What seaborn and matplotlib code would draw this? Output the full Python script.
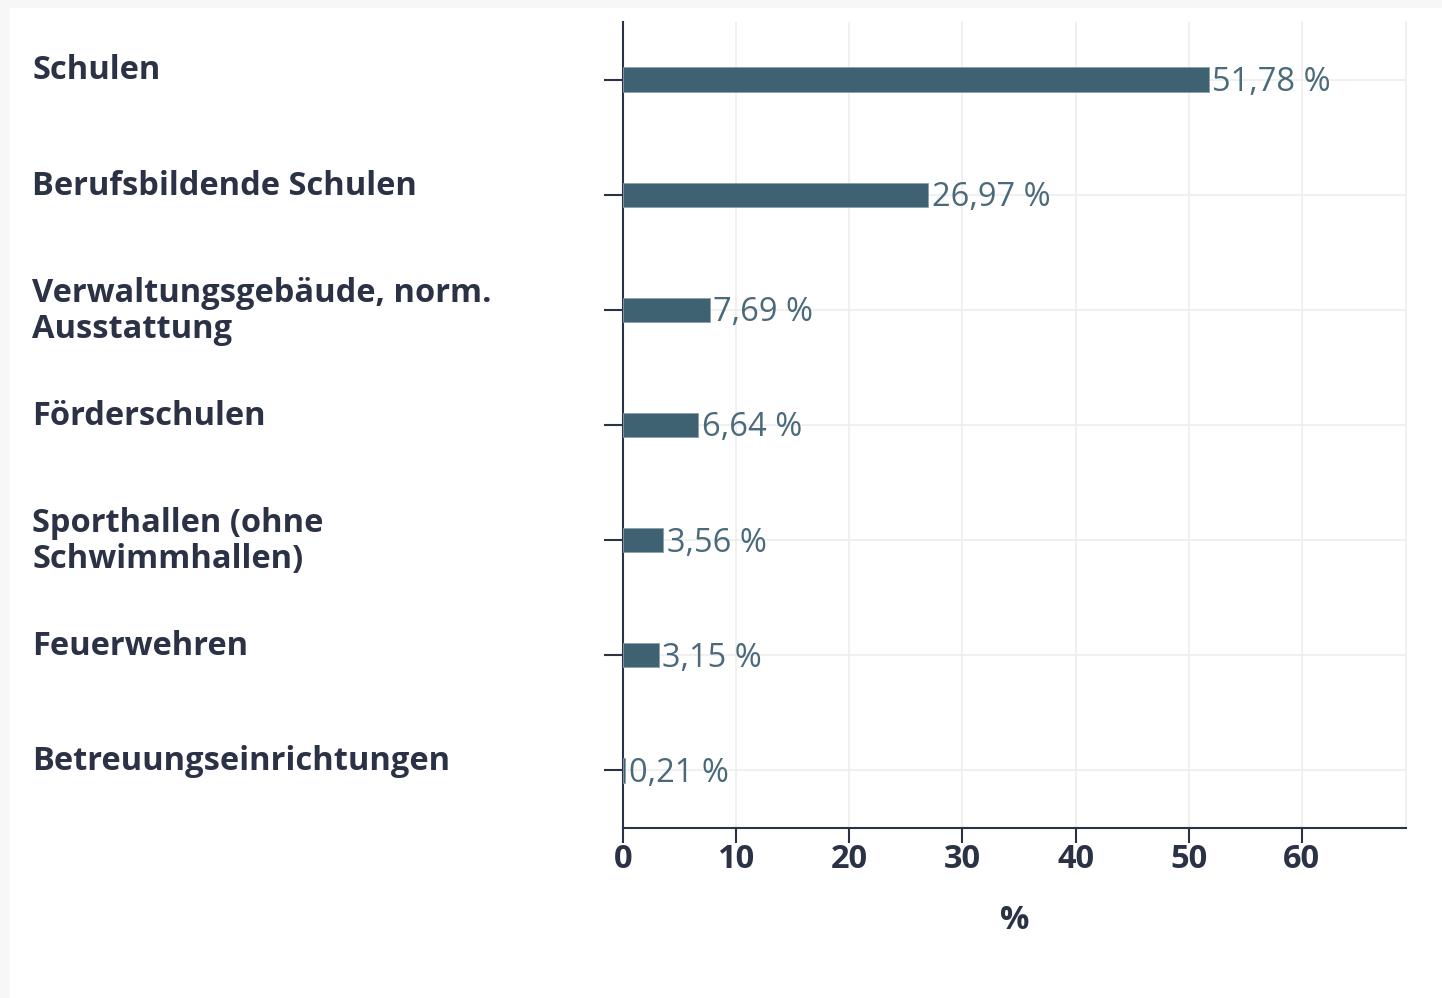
import matplotlib
matplotlib.use("Agg")
import matplotlib.pyplot as plt
import matplotlib.transforms as mtransforms
from matplotlib.patches import Rectangle
import seaborn as sns
import pandas as pd

categories = ["Schulen", "Berufsbildende Schulen", "Verwaltungsgebäude, norm.\nAusstattung",
              "Förderschulen", "Sporthallen (ohne\nSchwimmhallen)", "Feuerwehren",
              "Betreuungseinrichtungen"]
values = [51.78, 26.97, 7.69, 6.64, 3.56, 3.15, 0.21]
value_labels = ["51,78 %", "26,97 %", "7,69 %", "6,64 %", "3,56 %", "3,15 %", "0,21 %"]
x_ticks = [0, 10, 20, 30, 40, 50, 60]
x_label = "%"

sns.set_theme(style="white")
plt.rcParams['font.family'] = ['Open Sans', 'DejaVu Sans']

DARK = "#2b3245"
BAR = "#3f6273"
VAL = "#4a6a7b"
GRID = "#eeeeee"
FS = 23.5

fig = plt.figure(figsize=(14.42, 9.98), dpi=100)
fig.patch.set_facecolor("#f7f7f7")
fig.patches.append(Rectangle((10/1442, 0), 1 - 10/1442, 1 - 8/998, transform=fig.transFigure,
                             facecolor="white", edgecolor="none", zorder=-10))
ax = fig.add_axes([623/1442, (998-828)/998, (1406-623)/1442, (828-22)/998])
ax.set_facecolor("none")

df = pd.DataFrame({"cat": categories, "val": values})
sns.barplot(data=df, x="val", y="cat", orient="h", color=BAR, width=0.21,
            saturation=1, ax=ax, zorder=3, edgecolor="#8aa0ab", linewidth=0.6)

ax.set_xlim(0, 69.2)
ax.set_ylim(6.5, -0.5)
ax.set_xticks(x_ticks)
ax.set_xticklabels([str(t) for t in x_ticks], fontsize=FS, fontweight="bold", color=DARK)
ax.set_yticks(range(len(categories)))
ax.set_yticklabels([""] * len(categories))
ax.tick_params(axis="x", bottom=True, direction="out", length=11, width=1.5, color=DARK, pad=0)
ax.tick_params(axis="y", left=True, direction="out", length=14, width=1.5, color=DARK)
ax.set_xlabel(x_label, fontsize=FS, fontweight="bold", color=DARK, labelpad=20)
ax.set_ylabel("")

for g in x_ticks[1:]:
    ax.axvline(g, color=GRID, lw=1.2, zorder=0)
for i in range(len(categories)):
    ax.axhline(i, color=GRID, lw=1.2, zorder=0)

ax.spines["top"].set_visible(False)
ax.spines["right"].set_color(GRID)
ax.spines["right"].set_linewidth(1.2)
for s in ["left", "bottom"]:
    ax.spines[s].set_color(DARK)
    ax.spines[s].set_linewidth(1.5)

trans = mtransforms.blended_transform_factory(fig.transFigure, ax.transData)
for i, (c, v, lab) in enumerate(zip(categories, values, value_labels)):
    off = 0.01 if "\n" in c else -0.075
    ax.text(32/1442, i + off, c, transform=trans, ha="left", va="center",
            fontsize=FS, fontweight="bold", color=DARK, linespacing=1.12)
    ax.text(v + 0.3, i + 0.025, lab, ha="left", va="center", fontsize=FS, color=VAL, zorder=5)

fig.savefig("out.png", dpi=100, facecolor=fig.get_facecolor())
